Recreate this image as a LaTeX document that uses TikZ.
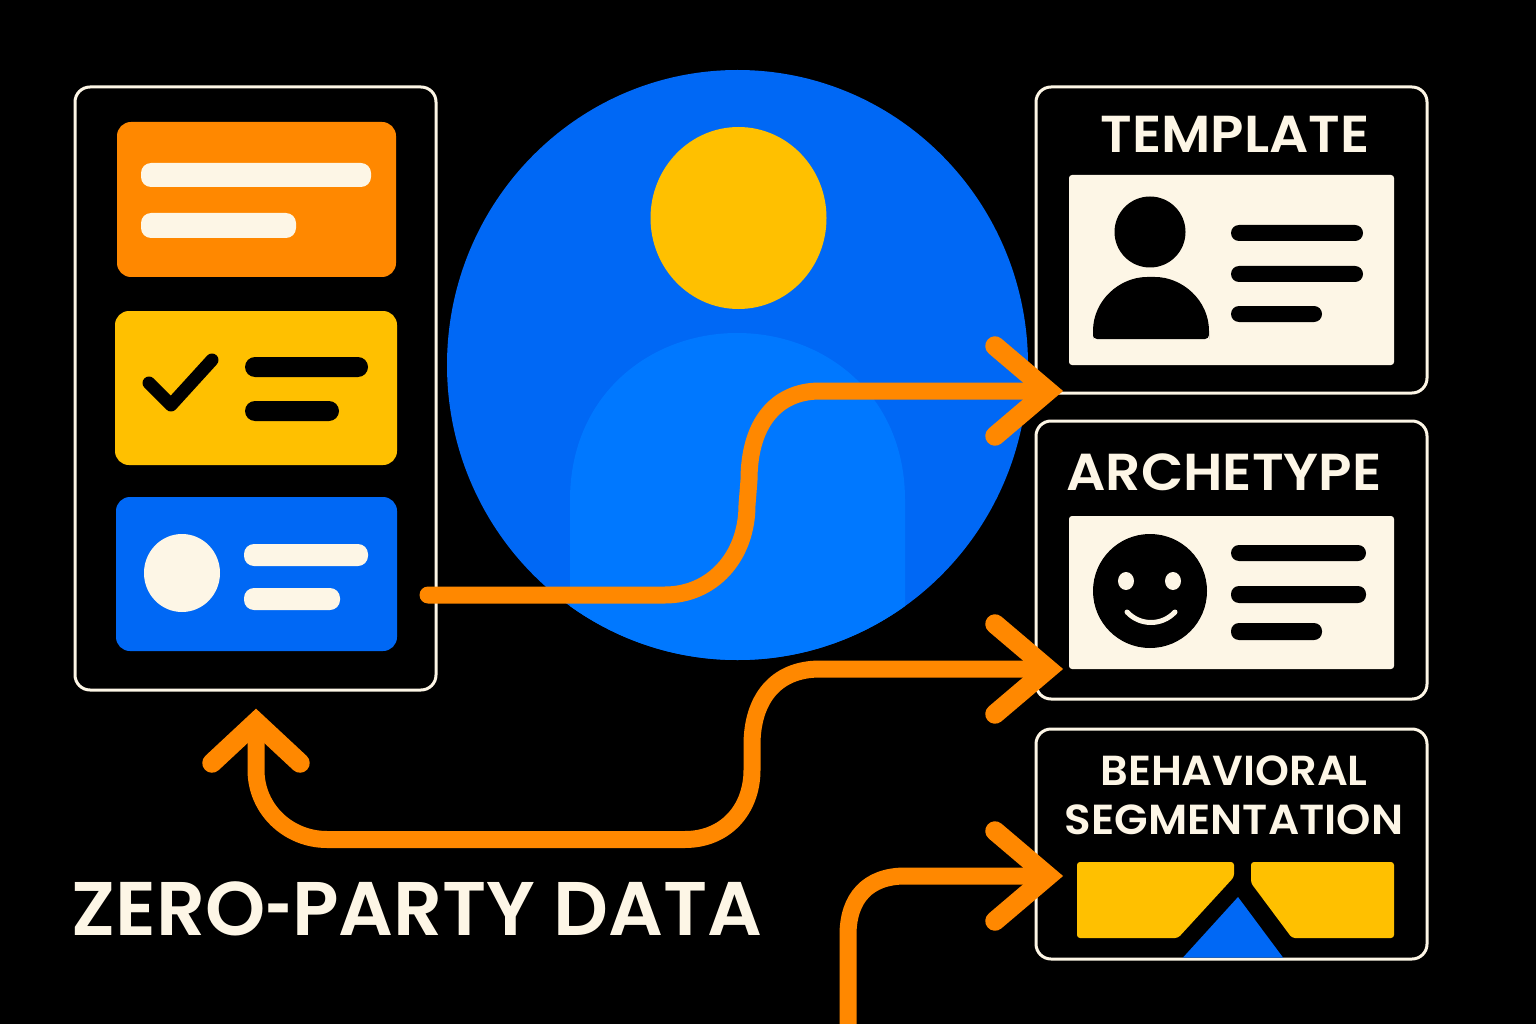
\documentclass[tikz,border=0pt]{standalone}
\usepackage{fontspec}
\setmainfont{Poppins}[BoldFont={Poppins SemiBold}]
\usetikzlibrary{calc}
\definecolor{cream}{HTML}{FDF6E6}
\definecolor{org}{HTML}{FF8800}
\definecolor{yel}{HTML}{FFC000}
\definecolor{blu}{HTML}{0068F5}
\definecolor{blulight}{HTML}{0078FF}
\tikzset{
  x=1pt,y=-1pt,
  panel/.style={draw=cream,line width=3pt,rounded corners=15pt,fill=black,inner sep=0pt,outer sep=0pt,anchor=north west},
  card/.style={rounded corners=14pt},
  paper/.style={fill=cream,rounded corners=3pt},
  barc/.style={fill=cream,rounded corners=10pt},
  bark/.style={fill=black,rounded corners=8pt},
  shaft/.style={draw=org,line width=17pt,line cap=round},
  chev/.style={draw=org,line width=19.5pt,line cap=round,line join=miter},
  lbl/.style={text=cream,font=\bfseries,inner sep=0pt,anchor=center},
}
\newcommand{\lab}[5]{\node[lbl] (#1) at (#2) {\scalebox{#5}[1]{\fontsize{#3}{#3}\selectfont #4}};}
\newcommand{\chevR}[1]{\draw[chev] ([shift={(-69,-45)}]#1) -- ([shift={(-16,0)}]#1) -- ([shift={(-69,45)}]#1);}
\newcommand{\chevU}[1]{\draw[chev] ([shift={(-44,54)}]#1) -- ([shift={(0,13)}]#1) -- ([shift={(44,54)}]#1);}
\begin{document}
\begin{tikzpicture}
\useasboundingbox[fill=black] (0,0) rectangle (1536,1024);
% left panel
\node[panel,minimum width=361pt,minimum height=603pt] (forms) at (75,87) {};
\fill[org,card] (117,122) rectangle (396,277);
\fill[barc] (141,163) rectangle (371,187);
\fill[barc] (141,213) rectangle (296,238);
\fill[yel,card] (115,311) rectangle (397,465);
\draw[black,line width=13pt,line cap=round,line join=round] (149,383) -- (171,405) -- (212,360);
\fill[bark,rounded corners=10pt] (245,357) rectangle (368,377);
\fill[bark,rounded corners=10pt] (245,401) rectangle (339,421);
\fill[blu,card] (116,497) rectangle (397,651);
\fill[cream] (182,573) ellipse[x radius=38,y radius=39];
\fill[barc] (244,544) rectangle (368,566);
\fill[barc] (244,588) rectangle (340,610);
% central figure
\fill[blu] (737.5,365) ellipse[x radius=290.5,y radius=295];
\begin{scope}
\clip (737.5,365) ellipse[x radius=290.5,y radius=295];
\fill[blulight] (570,700) -- (570,500) .. controls (570,395) and (650,333) .. (737,333)
   .. controls (825,333) and (905,395) .. (905,500) -- (905,700) -- cycle;
\end{scope}
\fill[yel] (738.5,218) ellipse[x radius=88,y radius=91];
% right panels
\node[panel,minimum width=391pt,minimum height=306pt] (template) at (1036,87) {};
\fill[paper] (1069,175) rectangle (1394,365);
\fill[black] (1150,232) circle[radius=35.5];
\fill[black,rounded corners=4pt] (1093,339) -- (1093,335) .. controls (1093,300) and (1120,277) .. (1151,277)
   .. controls (1182,277) and (1209,300) .. (1209,335) -- (1209,339) -- cycle;
\fill[bark] (1231,225) rectangle (1363,241);
\fill[bark] (1231,266) rectangle (1363,282);
\fill[bark] (1231,306) rectangle (1322,322);
\node[panel,minimum width=391pt,minimum height=278pt] (archetype) at (1036,421) {};
\fill[paper] (1069,516) rectangle (1394,669);
\fill[black] (1150,591) circle[radius=57];
\fill[cream] (1126,581) ellipse[x radius=8,y radius=9];
\fill[cream] (1173,581) ellipse[x radius=8,y radius=9];
\draw[cream,line width=5pt,line cap=round] (1127,612) .. controls (1140,626) and (1162,626) .. (1175,612);
\fill[bark] (1231,545) rectangle (1366,561);
\fill[bark] (1231,586) rectangle (1366,603);
\fill[bark] (1231,623) rectangle (1322,640);
\node[panel,minimum width=391pt,minimum height=230pt] (behavioral) at (1036,729) {};
\fill[yel,rounded corners=3pt] (1077,862) -- (1234,862) -- (1234,877) -- (1178,938) -- (1077,938) -- cycle;
\fill[yel,rounded corners=3pt] (1251,862) -- (1394,862) -- (1394,938) -- (1292,938) -- (1251,883) -- cycle;
\fill[blu] (1238,897) -- (1283,957.5) -- (1183,957.5) -- cycle;
% labels
\lab{tTemplate}{1235,134}{52pt}{TEMPLATE}{1.055}
\lab{tArchetype}{1224,472}{52pt}{ARCHETYPE}{1.058}
\lab{tBeh}{1234,771}{42pt}{BEHAVIORAL}{1.027}
\lab{tSeg}{1234,820}{42pt}{SEGMENTATION}{1.04}
\lab{tZero}{417,909}{76pt}{ZERO\scalebox{.6}[1]{-}PARTY DATA}{1.008}
% connectors
\coordinate (s1) at ([shift={(-8,-95)}]forms.south east);
\coordinate (e1) at ([shift={(28,-2)}]template.south west);
\coordinate (e2) at ([shift={(28,-30)}]archetype.south west);
\coordinate (s2) at ([shift={(181,19)}]forms.south west);
\coordinate (s3) at (848,1030);
\coordinate (e3) at ([shift={(28,-83)}]behavioral.south west);
\draw[shaft] (s1) -- (665,595) .. controls (712,595) and (747,557) .. (747,505)
  -- (749,480) .. controls (749,425) and (775,391) .. (820,391) -- ([xshift=-20pt]e1);
\chevR{e1}
\draw[shaft] ([xshift=-20pt]e2) -- (820,669) .. controls (775,669) and (752,700) .. (752,745) -- (752,770)
  .. controls (752,810) and (725,839.5) .. (685,839.5) -- (327,839.5)
  .. controls (288,839.5) and (256,809) .. (256,770) -- ([shift={(0,20)}]s2);
\chevR{e2}
\chevU{s2}
\draw[shaft] (s3) -- (848,935) .. controls (848,898) and (868,876) .. (905,876) -- ([xshift=-20pt]e3);
\chevR{e3}
\end{tikzpicture}
\end{document}
